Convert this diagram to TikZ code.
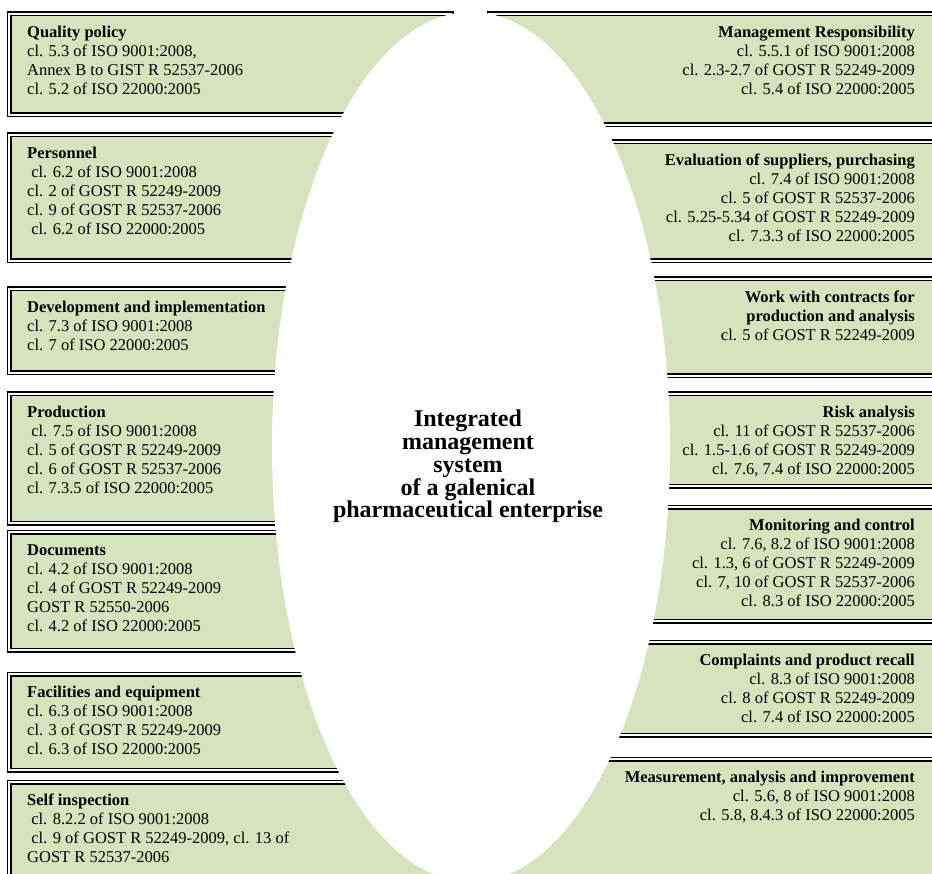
\documentclass[tikz,border=0pt]{standalone}
\usepackage{fontspec}
\setmainfont{Liberation Serif}
\usetikzlibrary{positioning,shapes.geometric}
\definecolor{panel}{HTML}{D7E3BC}
\definecolor{ink}{HTML}{000000}
\tikzset{
  every node/.style={text=ink},
  framebox/.style={draw=ink,line width=1.8pt,double=white,double distance=1.4pt,fill=panel,inner sep=0pt,outer sep=0pt,anchor=north west},
  lpanel/.style={framebox,minimum width=442pt},
  rpanel/.style={framebox,minimum width=470pt},
  ltext/.style={inner sep=0pt,align=left,font=\fontsize{16.5}{19}\selectfont},
  rtext/.style={ltext,align=right},
  core/.style={ellipse,fill=white,inner sep=0pt,minimum width=398pt,minimum height=870pt},
  coretext/.style={inner sep=0pt,align=center,font=\fontsize{24}{22.75}\selectfont\bfseries},
}

\begin{document}
\begin{tikzpicture}[x=1pt,y=-1pt]
\useasboundingbox (0,0) rectangle (932,874);
\clip (0,0) rectangle (932,874);

% Left column
\node[lpanel,minimum height=101pt] (l1) at (9,14) {};
\node[lpanel,minimum height=126pt] (l2) at (9,135) {};
\node[lpanel,minimum height=84pt] (l3) at (9,289) {};
\node[lpanel,minimum height=129pt] (l4) at (9,394) {};
\node[lpanel,minimum height=118pt] (l5) at (9,532) {};
\node[lpanel,minimum height=96pt] (l6) at (9,674) {};
\node[lpanel,minimum height=130pt] (l7) at (9,782) {};

% Right column
\node[rpanel,minimum height=111pt] (r1) at (489,14) {};
\node[rpanel,minimum height=119pt] (r2) at (489,142) {};
\node[rpanel,minimum height=97pt] (r3) at (489,279) {};
\node[rpanel,minimum height=92pt] (r4) at (489,394) {};
\node[rpanel,minimum height=114pt] (r5) at (489,507) {};
\node[rpanel,minimum height=93pt] (r6) at (489,642) {};
\node[rpanel,minimum height=140pt] (r7) at (489,759) {};

% Central ellipse
\node[core] (core) at (471,447) {};
\node[coretext,anchor=north] (title) at (468,410)
{Integrated\\management\\system\\of a galenical\\pharmaceutical enterprise};

% Left texts
\node[ltext,below right=12pt and 18pt of l1.north west] (l1txt)
{\textbf{Quality policy}\\cl. 5.3 of ISO 9001:2008,\\Annex B to GIST R 52537-2006\\cl. 5.2 of ISO 22000:2005};
\node[ltext,below right=12pt and 18pt of l2.north west] (l2txt)
{\textbf{Personnel}\\\ cl. 6.2 of ISO 9001:2008\\cl. 2 of GOST R 52249-2009\\cl. 9 of GOST R 52537-2006\\\ cl. 6.2 of ISO 22000:2005};
\node[ltext,below right=12pt and 18pt of l3.north west] (l3txt)
{\textbf{Development and implementation}\\cl. 7.3 of ISO 9001:2008\\cl. 7 of ISO 22000:2005};
\node[ltext,below right=12pt and 18pt of l4.north west] (l4txt)
{\textbf{Production}\\\ cl. 7.5 of ISO 9001:2008\\cl. 5 of GOST R 52249-2009\\cl. 6 of GOST R 52537-2006\\cl. 7.3.5 of ISO 22000:2005};
\node[ltext,below right=12pt and 18pt of l5.north west] (l5txt)
{\textbf{Documents}\\cl. 4.2 of ISO 9001:2008\\cl. 4 of GOST R 52249-2009\\GOST R 52550-2006\\cl. 4.2 of ISO 22000:2005};
\node[ltext,below right=12pt and 18pt of l6.north west] (l6txt)
{\textbf{Facilities and equipment}\\cl. 6.3 of ISO 9001:2008\\cl. 3 of GOST R 52249-2009\\cl. 6.3 of ISO 22000:2005};
\node[ltext,below right=12pt and 18pt of l7.north west] (l7txt)
{\textbf{Self inspection}\\\ cl. 8.2.2 of ISO 9001:2008\\\ cl. 9 of GOST R 52249-2009, cl. 13 of\\GOST R 52537-2006};

% Right texts
\node[rtext,below left=12pt and 44pt of r1.north east] (r1txt)
{\textbf{Management Responsibility}\\cl. 5.5.1 of ISO 9001:2008\\cl. 2.3-2.7 of GOST R 52249-2009\\cl. 5.4 of ISO 22000:2005};
\node[rtext,below left=12pt and 44pt of r2.north east] (r2txt)
{\textbf{Evaluation of suppliers, purchasing}\\cl. 7.4 of ISO 9001:2008\\cl. 5 of GOST R 52537-2006\\cl. 5.25-5.34 of GOST R 52249-2009\\cl. 7.3.3 of ISO 22000:2005};
\node[rtext,below left=12pt and 44pt of r3.north east] (r3txt)
{\textbf{Work with contracts for}\\\textbf{production and analysis}\\cl. 5 of GOST R 52249-2009};
\node[rtext,below left=12pt and 44pt of r4.north east] (r4txt)
{\textbf{Risk analysis}\\cl. 11 of GOST R 52537-2006\\cl. 1.5-1.6 of GOST R 52249-2009\\cl. 7.6, 7.4 of ISO 22000:2005};
\node[rtext,below left=12pt and 44pt of r5.north east] (r5txt)
{\textbf{Monitoring and control}\\cl. 7.6, 8.2 of ISO 9001:2008\\cl. 1.3, 6 of GOST R 52249-2009\\cl. 7, 10 of GOST R 52537-2006\\cl. 8.3 of ISO 22000:2005};
\node[rtext,below left=12pt and 44pt of r6.north east] (r6txt)
{\textbf{Complaints and product recall}\\cl. 8.3 of ISO 9001:2008\\cl. 8 of GOST R 52249-2009\\cl. 7.4 of ISO 22000:2005};
\node[rtext,below left=12pt and 44pt of r7.north east] (r7txt)
{\textbf{Measurement, analysis and improvement}\\cl. 5.6, 8 of ISO 9001:2008\\cl. 5.8, 8.4.3 of ISO 22000:2005};

\end{tikzpicture}
\end{document}
